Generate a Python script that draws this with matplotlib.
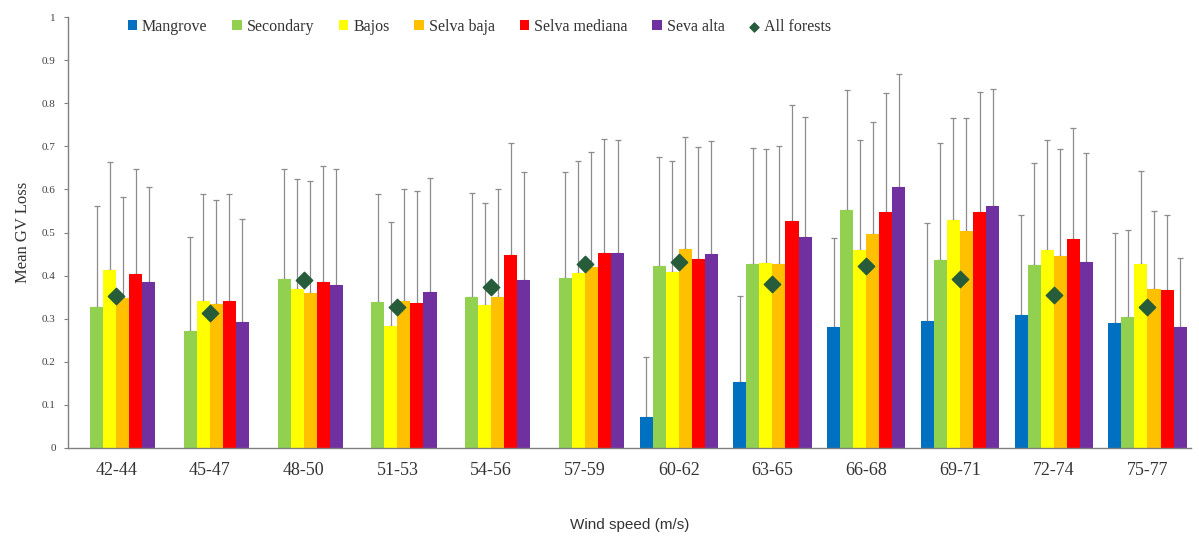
import numpy as np
import matplotlib.pyplot as plt

categories = ["42-44", "45-47", "48-50", "51-53", "54-56", "57-59",
              "60-62", "63-65", "66-68", "69-71", "72-74", "75-77"]

series_names = ["Mangrove", "Secondary", "Bajos", "Selva baja", "Selva mediana", "Seva alta"]
colors = ["#0070C0", "#92D050", "#FFFF00", "#FFC000", "#FF0000", "#7030A0"]

nan = np.nan
mangrove      = [nan, nan, nan, nan, nan, nan, 0.071, 0.154, 0.280, 0.295, 0.309, 0.291]
secondary     = [0.326, 0.272, 0.391, 0.338, 0.351, 0.394, 0.422, 0.427, 0.552, 0.436, 0.425, 0.305]
bajos         = [0.413, 0.340, 0.368, 0.282, 0.332, 0.407, 0.409, 0.430, 0.459, 0.529, 0.459, 0.428]
selva_baja    = [0.347, 0.335, 0.359, 0.342, 0.350, 0.421, 0.461, 0.427, 0.496, 0.504, 0.445, 0.370]
selva_mediana = [0.403, 0.340, 0.386, 0.336, 0.448, 0.453, 0.438, 0.527, 0.548, 0.548, 0.484, 0.367]
seva_alta     = [0.385, 0.293, 0.378, 0.363, 0.390, 0.452, 0.449, 0.490, 0.606, 0.562, 0.432, 0.281]

# upper end of the error bars (mean + sd)
mangrove_top      = [nan, nan, nan, nan, nan, nan, 0.212, 0.353, 0.487, 0.523, 0.541, 0.500]
secondary_top     = [0.561, 0.490, 0.647, 0.590, 0.591, 0.641, 0.676, 0.697, 0.831, 0.707, 0.662, 0.506]
bajos_top         = [0.664, 0.589, 0.625, 0.525, 0.568, 0.666, 0.667, 0.694, 0.715, 0.767, 0.715, 0.643]
selva_baja_top    = [0.583, 0.575, 0.619, 0.600, 0.600, 0.688, 0.722, 0.701, 0.757, 0.767, 0.693, 0.550]
selva_mediana_top = [0.648, 0.589, 0.655, 0.596, 0.707, 0.718, 0.698, 0.796, 0.823, 0.827, 0.742, 0.541]
seva_alta_top     = [0.606, 0.531, 0.647, 0.626, 0.641, 0.715, 0.713, 0.769, 0.868, 0.833, 0.684, 0.442]

all_forests = [0.353, 0.314, 0.390, 0.326, 0.374, 0.426, 0.432, 0.380, 0.422, 0.391, 0.355, 0.326]

means = [mangrove, secondary, bajos, selva_baja, selva_mediana, seva_alta]
tops = [mangrove_top, secondary_top, bajos_top, selva_baja_top, selva_mediana_top, seva_alta_top]

fig = plt.figure(figsize=(11.99, 5.37), dpi=100)
ax = fig.add_axes([0.057, 0.166, 0.936, 0.802])

x = np.arange(len(categories))
w = 0.139

handles = []
for k, (name, vals, top, c) in enumerate(zip(series_names, means, tops, colors)):
    vals = np.array(vals)
    err = np.array(top) - vals
    pos = x + (k - 2.5) * w
    h = ax.bar(pos, vals, width=w, color=c, label=name, zorder=2)
    handles.append(h)
    ax.errorbar(pos, vals, yerr=[np.zeros_like(err), err], fmt='none',
                ecolor='#8c8c8c', elinewidth=0.9, capsize=2, capthick=0.9, zorder=1)

d = ax.scatter(x, all_forests, marker='D', s=70, color='#265C3A', label='All forests', zorder=4)
handles.append(d)

ax.set_xlim(-0.51, 11.46)
ax.set_ylim(0, 1)
ax.set_yticks(np.arange(0, 1.01, 0.1))
ax.set_yticklabels(['0'] + [f'{v:.1f}' for v in np.arange(0.1, 0.95, 0.1)] + ['1'],
                   fontsize=8, family='Liberation Serif', color='#404040')
ax.set_xticks(x)
ax.set_xticklabels(categories, fontsize=13, family='Liberation Serif', color='#333333')
ax.tick_params(axis='x', length=0, pad=10)
ax.tick_params(axis='y', length=3, color='#808080', pad=6)

for s in ['top', 'right']:
    ax.spines[s].set_visible(False)
for s in ['left', 'bottom']:
    ax.spines[s].set_color('#808080')
    ax.spines[s].set_linewidth(1.0)

ax.set_ylabel('Mean GV Loss', fontsize=12, family='Liberation Serif', color='#333333', labelpad=8)
ax.set_xlabel('Wind speed (m/s)', fontsize=11, family='Liberation Sans', color='#333333', labelpad=28)

leg = ax.legend(handles, series_names + ['All forests'],
                loc='upper left', bbox_to_anchor=(0.04, 1.03), ncol=7, frameon=False,
                handlelength=0.6, handleheight=0.6, handletextpad=0.3, columnspacing=1.55,
                prop={'family': 'Liberation Serif', 'size': 11.5}, markerscale=0.55)
for t in leg.get_texts():
    t.set_color('#333333')

plt.savefig('out.png', dpi=100)
plt.close()
